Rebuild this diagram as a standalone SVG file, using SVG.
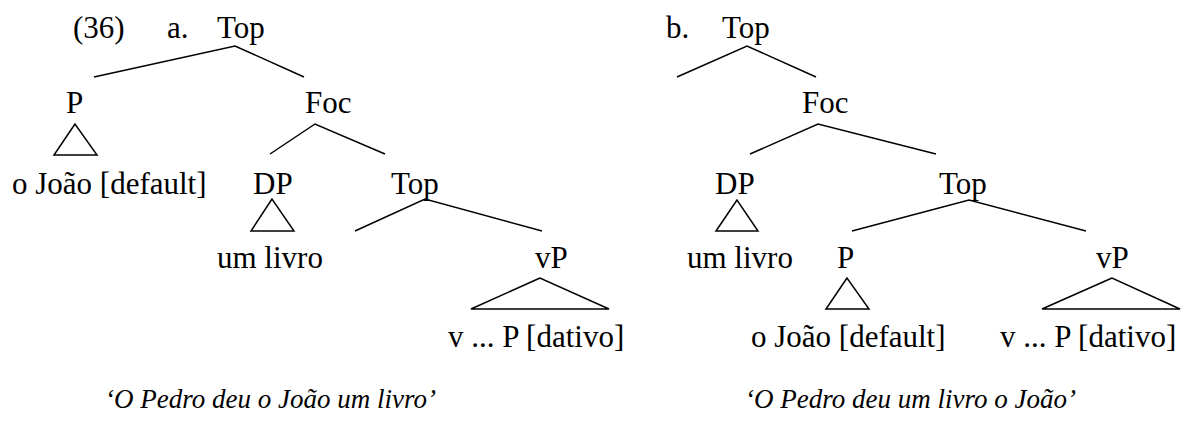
<svg xmlns="http://www.w3.org/2000/svg" width="1185" height="423" viewBox="0 0 1185 423">
  <style>
    text { font-family: "Liberation Serif", "Times New Roman", serif; font-size: 31px; fill: #000; }
    .gloss { font-style: italic; font-size: 27px; }
    .edge { stroke: #000; stroke-width: 1.5; fill: none; }
    .tri { stroke: #000; stroke-width: 1.5; fill: none; stroke-linejoin: miter; }
  </style>

  <rect width="1185" height="423" fill="#fff"/>

  <!-- Tree (a) -->
  <g id="ex-number"><text x="73" y="38">(36)</text></g>
  <g id="a-label"><text x="167" y="38">a.</text></g>
  <g id="a-top"><text x="217" y="38">Top</text></g>
  <g id="a-p"><text x="66" y="113">P</text></g>
  <g id="a-p-leaf"><text x="12" y="194">o João [default]</text></g>
  <g id="a-foc"><text x="305" y="113">Foc</text></g>
  <g id="a-dp"><text x="253" y="194">DP</text></g>
  <g id="a-dp-leaf"><text x="217" y="268">um livro</text></g>
  <g id="a-top2"><text x="391" y="194">Top</text></g>
  <g id="a-vp"><text x="535" y="268">vP</text></g>
  <g id="a-vp-leaf"><text x="448" y="347">v ... P [dativo]</text></g>
  <g id="a-gloss"><text class="gloss" x="105" y="408">‘O Pedro deu o João um livro’</text></g>

  <!-- Tree (b) -->
  <g id="b-label"><text x="666" y="38">b.</text></g>
  <g id="b-top"><text x="722" y="38">Top</text></g>
  <g id="b-foc"><text x="802" y="113">Foc</text></g>
  <g id="b-dp"><text x="715" y="194">DP</text></g>
  <g id="b-dp-leaf"><text x="687" y="268">um livro</text></g>
  <g id="b-top2"><text x="939" y="194">Top</text></g>
  <g id="b-p"><text x="837" y="268">P</text></g>
  <g id="b-p-leaf"><text x="751" y="347">o João [default]</text></g>
  <g id="b-vp"><text x="1096" y="268">vP</text></g>
  <g id="b-vp-leaf"><text x="1000" y="347">v ... P [dativo]</text></g>
  <g id="b-gloss"><text class="gloss" x="745" y="408">‘O Pedro deu um livro o João’</text></g>

  <!-- Branches and triangles -->
  <g id="connectors">
    <!-- (a) -->
    <polyline class="edge" points="94,77 235,46 304,77"/>
    <polygon class="tri" points="75,124 54,155 97,155"/>
    <polyline class="edge" points="270,154 315,124 385,154"/>
    <polygon class="tri" points="272,199 251,231 294,231"/>
    <polyline class="edge" points="355,231 425,199 542,231"/>
    <polygon class="tri" points="540,278 471,309 609,309"/>
    <!-- (b) -->
    <polyline class="edge" points="677,77 747,46 816,77"/>
    <polyline class="edge" points="750,154 818,124 936,154"/>
    <polygon class="tri" points="737,200 716,231 758,231"/>
    <polyline class="edge" points="852,231 969,200 1086,231"/>
    <polygon class="tri" points="847,278 826,309 869,309"/>
    <polygon class="tri" points="1112,278 1042,309 1180,309"/>
  </g>
</svg>
